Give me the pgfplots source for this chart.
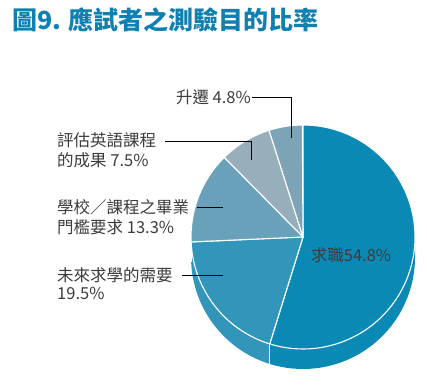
\documentclass[border=0pt]{standalone}
\usepackage{fontspec}
\setmainfont{Noto Sans CJK TC}
\usepackage{pgfplots}
\pgfplotsset{compat=1.18}
\definecolor{cA}{HTML}{0A89B5}
\definecolor{cB}{HTML}{3196B9}
\definecolor{cC}{HTML}{69A1BB}
\definecolor{cD}{HTML}{97AFBB}
\definecolor{cE}{HTML}{7CA3B6}
\definecolor{titlec}{HTML}{0F80B0}
\definecolor{txt}{HTML}{3C3C3C}
\begin{document}
\begin{tikzpicture}
% values (percent), clockwise from the top
\def\vA{54.8}\def\vB{19.5}\def\vC{13.3}\def\vD{7.5}\def\vE{4.8}
\pgfmathsetmacro\aZ{90}
\pgfmathsetmacro\aA{\aZ-3.6*\vA}
\pgfmathsetmacro\aB{\aA-3.6*\vB}
\pgfmathsetmacro\aC{\aB-3.6*\vC}
\pgfmathsetmacro\aD{\aC-3.6*\vD}
\pgfmathsetmacro\aE{\aD-3.6*\vE}
\def\R{112pt}
\def\D{20pt}
\begin{axis}[scale only axis, width=427pt, height=384pt,
  xmin=0, xmax=427, ymin=0, ymax=384, hide axis, clip=false]
\path (axis cs:0,0) rectangle (axis cs:427,384);
% side of the pie
\fill[cA] (axis cs:303,147) ++(\aA:\R) arc[start angle=\aA, end angle=0, radius=\R] -- ++(0,-\D) arc[start angle=0, end angle=\aA, radius=\R] -- cycle;
\fill[cB] (axis cs:303,147) ++(\aB:\R) arc[start angle=\aB, end angle=\aA, radius=\R] -- ++(0,-\D) arc[start angle=\aA, end angle=\aB, radius=\R] -- cycle;
\fill[cC] (axis cs:303,147) ++(-180:\R) arc[start angle=-180, end angle=\aB, radius=\R] -- ++(0,-\D) arc[start angle=\aB, end angle=-180, radius=\R] -- cycle;
\draw[white, line width=1.1pt] (axis cs:303,147) ++(\aA:\R) -- ++(0,-\D);
\draw[white, line width=1.1pt] (axis cs:303,147) ++(\aB:\R) -- ++(0,-\D);
% top face
\filldraw[fill=cA, draw=white, line width=1.1pt, line join=round] (axis cs:303,147) -- ++(\aZ:\R) arc[start angle=\aZ, end angle=\aA, radius=\R] -- cycle;
\filldraw[fill=cB, draw=white, line width=1.1pt, line join=round] (axis cs:303,147) -- ++(\aA:\R) arc[start angle=\aA, end angle=\aB, radius=\R] -- cycle;
\filldraw[fill=cC, draw=white, line width=1.1pt, line join=round] (axis cs:303,147) -- ++(\aB:\R) arc[start angle=\aB, end angle=\aC, radius=\R] -- cycle;
\filldraw[fill=cD, draw=white, line width=1.1pt, line join=round] (axis cs:303,147) -- ++(\aC:\R) arc[start angle=\aC, end angle=\aD, radius=\R] -- cycle;
\filldraw[fill=cE, draw=white, line width=1.1pt, line join=round] (axis cs:303,147) -- ++(\aD:\R) arc[start angle=\aD, end angle=\aE, radius=\R] -- cycle;
% leader lines
\draw[black, line width=0.9pt] (axis cs:252,287) -- (axis cs:291,287) -- (axis cs:291,246);
\draw[black, line width=0.9pt] (axis cs:165,243) -- (axis cs:251,243) -- (axis cs:251,224);
\draw[black, line width=0.9pt] (axis cs:197,177) -- (axis cs:223,177);
\draw[black, line width=0.9pt] (axis cs:182,109) -- (axis cs:223,109);
% labels
\begin{scope}[every node/.style={font=\fontsize{16.5}{18}\selectfont, text=txt, inner sep=0pt}]
\node[anchor=east] at (axis cs:251,287) {升遷 4.8\%};
\node[anchor=west] at (axis cs:57,244) {評估英語課程};
\node[anchor=west] at (axis cs:57,224) {的成果 7.5\%};
\node[anchor=west] at (axis cs:57,177) {學校／課程之畢業};
\node[anchor=west] at (axis cs:57,157) {門檻要求 13.3\%};
\node[anchor=west] at (axis cs:57,109) {未來求學的需要};
\node[anchor=west] at (axis cs:57,91) {19.5\%};
\node[anchor=center] at (axis cs:351,129) {求職54.8\%};
\end{scope}
\node[anchor=west, inner sep=0pt, text=titlec, font=\fontsize{25}{27}\selectfont\bfseries] at (axis cs:12,364) {圖9. 應試者之測驗目的比率};
\end{axis}
\end{tikzpicture}
\end{document}
